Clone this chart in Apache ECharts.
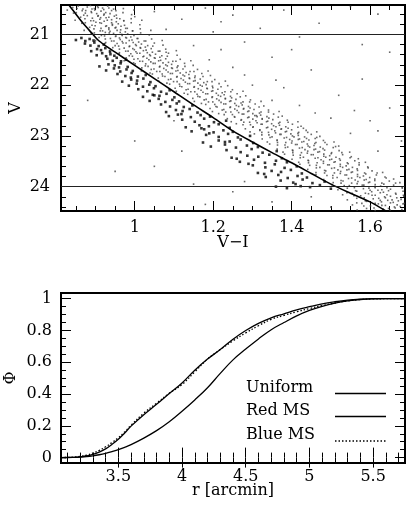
<!DOCTYPE html>
<html>
<head>
<meta charset="utf-8">
<script src="https://cdn.jsdelivr.net/npm/echarts@6/dist/echarts.min.js"></script>
<style>
html, body { margin: 0; padding: 0; background: #fff; }
#chart { width: 406px; height: 516px; }
</style>
</head>
<body>
<div id="chart"></div>
<script>
// ---------- top panel: V vs V-I ----------
// main sequence band (small dots)
var bandStars = [
  [0.842,20.47],[0.856,20.44],[0.868,20.5],[0.879,20.46],[0.887,20.43],[0.897,20.49],[0.905,20.45],[0.918,20.48],[0.931,20.44],[0.946,20.5],
  [0.851,20.57],[0.866,20.53],[0.874,20.58],[0.889,20.55],[0.898,20.52],[0.903,20.59],[0.914,20.54],[0.926,20.57],[0.941,20.53],
  [0.862,20.66],[0.879,20.63],[0.892,20.68],[0.906,20.64],[0.913,20.67],[0.921,20.62],[0.934,20.66],[0.948,20.64],[0.962,20.69],
  [0.874,20.77],[0.888,20.73],[0.901,20.76],[0.915,20.78],[0.922,20.74],[0.93,20.72],[0.941,20.77],[0.953,20.75],[0.972,20.73],
  [0.885,20.86],[0.899,20.83],[0.914,20.88],[0.926,20.84],[0.934,20.87],[0.943,20.82],[0.952,20.86],[0.965,20.84],[0.981,20.88],
  [0.897,20.97],[0.912,20.93],[0.925,20.96],[0.937,20.94],[0.946,20.98],[0.955,20.92],[0.963,20.96],[0.976,20.95],[0.994,20.93],
  [0.909,21.06],[0.923,21.03],[0.938,21.08],[0.951,21.04],[0.961,21.07],[0.968,21.02],[0.977,21.06],[0.99,21.05],[1.008,21.08],
  [0.926,21.16],[0.941,21.13],[0.955,21.18],[0.968,21.14],[0.978,21.17],[0.986,21.12],[0.996,21.16],[1.01,21.15],[1.028,21.13],
  [0.944,21.26],[0.959,21.23],[0.973,21.27],[0.986,21.24],[0.995,21.28],[1.004,21.22],[1.014,21.26],[1.027,21.25],[1.046,21.23],
  [0.961,21.36],[0.977,21.33],[0.99,21.38],[1.003,21.34],[1.013,21.37],[1.022,21.32],[1.032,21.36],[1.045,21.35],[1.064,21.33],
  [0.978,21.46],[0.994,21.43],[1.008,21.48],[1.021,21.44],[1.031,21.47],[1.04,21.42],[1.05,21.46],[1.064,21.45],[1.083,21.43],
  [0.997,21.56],[1.013,21.53],[1.028,21.58],[1.041,21.54],[1.052,21.57],[1.061,21.52],[1.072,21.56],[1.086,21.55],[1.105,21.53],
  [1.018,21.66],[1.034,21.63],[1.049,21.68],[1.063,21.64],[1.074,21.67],[1.083,21.62],[1.094,21.66],[1.108,21.65],[1.128,21.63],
  [1.039,21.76],[1.056,21.73],[1.07,21.78],[1.085,21.74],[1.096,21.77],[1.105,21.72],[1.116,21.76],[1.131,21.75],[1.151,21.73],
  [1.06,21.86],[1.077,21.83],[1.092,21.88],[1.107,21.84],[1.118,21.87],[1.127,21.82],[1.139,21.86],[1.153,21.85],[1.174,21.83],
  [1.082,21.96],[1.099,21.93],[1.114,21.98],[1.129,21.94],[1.14,21.97],[1.15,21.92],[1.161,21.96],[1.176,21.95],[1.197,21.93],
  [1.103,22.06],[1.12,22.03],[1.136,22.08],[1.151,22.04],[1.162,22.07],[1.172,22.02],[1.184,22.06],[1.199,22.05],[1.22,22.03],
  [1.126,22.16],[1.143,22.13],[1.159,22.18],[1.174,22.14],[1.186,22.17],[1.196,22.12],[1.208,22.16],[1.223,22.15],[1.245,22.13],
  [1.148,22.26],[1.166,22.23],[1.182,22.28],[1.197,22.24],[1.209,22.27],[1.219,22.22],[1.231,22.26],[1.247,22.25],[1.269,22.23],
  [1.17,22.36],[1.188,22.33],[1.204,22.38],[1.22,22.34],[1.232,22.37],[1.242,22.32],[1.255,22.36],[1.271,22.35],[1.293,22.33],
  [1.192,22.46],[1.21,22.43],[1.227,22.48],[1.243,22.44],[1.255,22.47],[1.265,22.42],[1.278,22.46],[1.294,22.45],[1.317,22.43],
  [1.214,22.56],[1.232,22.53],[1.249,22.58],[1.265,22.54],[1.278,22.57],[1.288,22.52],[1.301,22.56],[1.318,22.55],[1.341,22.53],
  [1.236,22.66],[1.255,22.63],[1.272,22.68],[1.288,22.64],[1.301,22.67],[1.312,22.62],[1.325,22.66],[1.342,22.65],[1.366,22.63],
  [1.259,22.76],[1.278,22.73],[1.295,22.78],[1.312,22.74],[1.325,22.77],[1.336,22.72],[1.349,22.76],[1.367,22.75],[1.391,22.73],
  [1.282,22.86],[1.301,22.83],[1.319,22.88],[1.336,22.84],[1.349,22.87],[1.36,22.82],[1.374,22.86],[1.391,22.85],[1.416,22.83],
  [1.305,22.96],[1.324,22.93],[1.342,22.98],[1.359,22.94],[1.373,22.97],[1.384,22.92],[1.398,22.96],[1.416,22.95],[1.441,22.93],
  [1.325,23.06],[1.345,23.03],[1.363,23.08],[1.381,23.04],[1.395,23.07],[1.406,23.02],[1.42,23.06],[1.438,23.05],[1.464,23.03],
  [1.344,23.16],[1.364,23.13],[1.383,23.18],[1.4,23.14],[1.414,23.17],[1.426,23.12],[1.44,23.16],[1.459,23.15],[1.485,23.13],
  [1.363,23.26],[1.384,23.23],[1.402,23.28],[1.42,23.24],[1.434,23.27],[1.446,23.22],[1.461,23.26],[1.48,23.25],[1.506,23.23],
  [1.382,23.36],[1.403,23.33],[1.422,23.38],[1.44,23.34],[1.455,23.37],[1.467,23.32],[1.482,23.36],[1.501,23.35],[1.528,23.33],
  [1.401,23.46],[1.422,23.43],[1.442,23.48],[1.46,23.44],[1.475,23.47],[1.487,23.42],[1.502,23.46],[1.522,23.45],[1.549,23.43],
  [1.421,23.56],[1.443,23.53],[1.463,23.58],[1.481,23.54],[1.496,23.57],[1.508,23.52],[1.524,23.56],[1.544,23.55],[1.572,23.53],
  [1.441,23.66],[1.463,23.63],[1.484,23.68],[1.502,23.64],[1.518,23.67],[1.53,23.62],[1.546,23.66],[1.567,23.65],[1.595,23.63],
  [1.462,23.76],[1.484,23.73],[1.505,23.78],[1.524,23.74],[1.54,23.77],[1.552,23.72],[1.568,23.76],[1.589,23.75],[1.618,23.73],
  [1.482,23.86],[1.505,23.83],[1.526,23.88],[1.545,23.84],[1.562,23.87],[1.574,23.82],[1.59,23.86],[1.612,23.85],[1.641,23.83],
  [1.503,23.96],[1.526,23.93],[1.547,23.98],[1.567,23.94],[1.584,23.97],[1.596,23.92],[1.613,23.96],[1.635,23.95],[1.665,23.93],
  [1.518,24.06],[1.542,24.03],[1.563,24.08],[1.583,24.04],[1.6,24.07],[1.613,24.02],[1.63,24.06],[1.652,24.05],[1.682,24.03],
  [1.53,24.16],[1.554,24.13],[1.576,24.18],[1.596,24.14],[1.613,24.17],[1.626,24.12],[1.643,24.16],[1.666,24.15],[1.686,24.19],
  [1.542,24.26],[1.566,24.23],[1.588,24.28],[1.608,24.24],[1.626,24.27],[1.639,24.22],[1.656,24.26],[1.679,24.25],
  [1.555,24.36],[1.579,24.33],[1.601,24.38],[1.621,24.34],[1.639,24.37],[1.652,24.32],[1.669,24.36],[1.684,24.34],
  [1.567,24.46],[1.591,24.43],[1.613,24.47],[1.633,24.44],[1.651,24.46],[1.664,24.42],[1.681,24.45]
];
// more band stars, on the rows in between
var bandStars2 = [
  [0.828,20.52],[0.853,20.49],[0.875,20.53],[0.891,20.5],[0.907,20.47],[0.921,20.51],[0.934,20.48],[0.952,20.53],[0.971,20.49],[0.998,20.52],
  [0.844,20.58],[0.87,20.62],[0.89,20.57],[0.907,20.63],[0.922,20.6],[0.937,20.59],[0.953,20.62],[0.97,20.57],[0.992,20.61],
  [0.848,20.72],[0.873,20.69],[0.895,20.73],[0.911,20.7],[0.927,20.67],[0.941,20.71],[0.954,20.68],[0.972,20.73],[0.991,20.69],[1.018,20.72],
  [0.865,20.78],[0.891,20.82],[0.911,20.77],[0.928,20.83],[0.943,20.8],[0.958,20.79],[0.974,20.82],[0.991,20.77],[1.013,20.81],
  [0.871,20.92],[0.896,20.89],[0.918,20.93],[0.934,20.9],[0.95,20.87],[0.964,20.91],[0.977,20.88],[0.995,20.93],[1.014,20.89],[1.041,20.92],
  [0.889,20.98],[0.915,21.02],[0.935,20.97],[0.952,21.03],[0.967,21.0],[0.982,20.99],[0.998,21.02],[1.015,20.97],[1.037,21.01],
  [0.9,21.12],[0.925,21.09],[0.947,21.13],[0.963,21.1],[0.979,21.07],[0.993,21.11],[1.006,21.08],[1.024,21.13],[1.043,21.09],[1.07,21.12],
  [0.924,21.18],[0.95,21.22],[0.97,21.17],[0.987,21.23],[1.002,21.2],[1.017,21.19],[1.033,21.22],[1.05,21.17],[1.072,21.21],
  [0.936,21.32],[0.961,21.29],[0.983,21.33],[0.999,21.3],[1.015,21.27],[1.029,21.31],[1.042,21.28],[1.06,21.33],[1.079,21.29],[1.106,21.32],
  [0.96,21.38],[0.986,21.42],[1.006,21.37],[1.023,21.43],[1.038,21.4],[1.053,21.39],[1.069,21.42],[1.086,21.37],[1.108,21.41],
  [0.973,21.52],[0.998,21.49],[1.02,21.53],[1.036,21.5],[1.052,21.47],[1.066,21.51],[1.079,21.48],[1.097,21.53],[1.116,21.49],[1.143,21.52],
  [1.001,21.58],[1.027,21.62],[1.047,21.57],[1.064,21.63],[1.079,21.6],[1.094,21.59],[1.11,21.62],[1.127,21.57],[1.149,21.61],
  [1.017,21.72],[1.042,21.69],[1.064,21.73],[1.08,21.7],[1.096,21.67],[1.11,21.71],[1.123,21.68],[1.141,21.73],[1.16,21.69],[1.187,21.72],
  [1.045,21.78],[1.071,21.82],[1.091,21.77],[1.108,21.83],[1.123,21.8],[1.138,21.79],[1.154,21.82],[1.171,21.77],[1.193,21.81],
  [1.061,21.92],[1.086,21.89],[1.108,21.93],[1.124,21.9],[1.14,21.87],[1.154,21.91],[1.167,21.88],[1.185,21.93],[1.204,21.89],[1.231,21.92],
  [1.089,21.98],[1.115,22.02],[1.135,21.97],[1.152,22.03],[1.167,22.0],[1.182,21.99],[1.198,22.02],[1.215,21.97],[1.237,22.01],
  [1.106,22.12],[1.131,22.09],[1.153,22.13],[1.169,22.1],[1.185,22.07],[1.199,22.11],[1.212,22.08],[1.23,22.13],[1.249,22.09],[1.276,22.12],
  [1.135,22.18],[1.161,22.22],[1.181,22.17],[1.198,22.23],[1.213,22.2],[1.228,22.19],[1.244,22.22],[1.261,22.17],[1.283,22.21],
  [1.152,22.32],[1.177,22.29],[1.199,22.33],[1.215,22.3],[1.231,22.27],[1.245,22.31],[1.258,22.28],[1.276,22.33],[1.295,22.29],[1.322,22.32],
  [1.181,22.38],[1.207,22.42],[1.227,22.37],[1.244,22.43],[1.259,22.4],[1.274,22.39],[1.29,22.42],[1.307,22.37],[1.329,22.41],
  [1.198,22.52],[1.223,22.49],[1.245,22.53],[1.261,22.5],[1.277,22.47],[1.291,22.51],[1.304,22.48],[1.322,22.53],[1.341,22.49],[1.368,22.52],
  [1.228,22.58],[1.254,22.62],[1.274,22.57],[1.291,22.63],[1.306,22.6],[1.321,22.59],[1.337,22.62],[1.354,22.57],[1.376,22.61],
  [1.246,22.72],[1.271,22.69],[1.293,22.73],[1.309,22.7],[1.325,22.67],[1.339,22.71],[1.352,22.68],[1.37,22.73],[1.389,22.69],[1.416,22.72],
  [1.276,22.78],[1.302,22.82],[1.322,22.77],[1.339,22.83],[1.354,22.8],[1.369,22.79],[1.385,22.82],[1.402,22.77],[1.424,22.81],
  [1.294,22.92],[1.319,22.89],[1.341,22.93],[1.357,22.9],[1.373,22.87],[1.387,22.91],[1.4,22.88],[1.418,22.93],[1.437,22.89],[1.464,22.92],
  [1.324,22.98],[1.35,23.02],[1.37,22.97],[1.387,23.03],[1.402,23.0],[1.417,22.99],[1.433,23.02],[1.45,22.97],[1.472,23.01],
  [1.338,23.12],[1.363,23.09],[1.385,23.13],[1.401,23.1],[1.417,23.07],[1.431,23.11],[1.444,23.08],[1.462,23.13],[1.481,23.09],[1.508,23.12],
  [1.364,23.18],[1.39,23.22],[1.41,23.17],[1.427,23.23],[1.442,23.2],[1.457,23.19],[1.473,23.22],[1.49,23.17],[1.512,23.21],
  [1.378,23.32],[1.403,23.29],[1.425,23.33],[1.441,23.3],[1.457,23.27],[1.471,23.31],[1.484,23.28],[1.502,23.33],[1.521,23.29],[1.548,23.32],
  [1.404,23.38],[1.43,23.42],[1.45,23.37],[1.467,23.43],[1.482,23.4],[1.497,23.39],[1.513,23.42],[1.53,23.37],[1.552,23.41],
  [1.418,23.52],[1.443,23.49],[1.465,23.53],[1.481,23.5],[1.497,23.47],[1.511,23.51],[1.524,23.48],[1.542,23.53],[1.561,23.49],[1.588,23.52],
  [1.446,23.58],[1.472,23.62],[1.492,23.57],[1.509,23.63],[1.524,23.6],[1.539,23.59],[1.555,23.62],[1.572,23.57],[1.594,23.61],
  [1.462,23.72],[1.487,23.69],[1.509,23.73],[1.525,23.7],[1.541,23.67],[1.555,23.71],[1.568,23.68],[1.586,23.73],[1.605,23.69],[1.632,23.72],
  [1.49,23.78],[1.516,23.82],[1.536,23.77],[1.553,23.83],[1.568,23.8],[1.583,23.79],[1.599,23.82],[1.616,23.77],[1.638,23.81],
  [1.506,23.92],[1.531,23.89],[1.553,23.93],[1.569,23.9],[1.585,23.87],[1.599,23.91],[1.612,23.88],[1.63,23.93],[1.649,23.89],[1.676,23.92],
  [1.534,23.98],[1.56,24.02],[1.58,23.97],[1.597,24.03],[1.612,24.0],[1.627,23.99],[1.643,24.02],[1.66,23.97],[1.682,24.01],
  [1.541,24.12],[1.566,24.09],[1.588,24.13],[1.604,24.1],[1.62,24.07],[1.634,24.11],[1.647,24.08],[1.665,24.13],[1.684,24.09],
  [1.559,24.18],[1.585,24.22],[1.605,24.17],[1.622,24.23],[1.637,24.2],[1.652,24.19],[1.668,24.22],[1.685,24.17],
  [1.566,24.32],[1.591,24.29],[1.613,24.33],[1.629,24.3],[1.645,24.27],[1.659,24.31],[1.672,24.28],[1.687,24.33],
  [1.584,24.38],[1.61,24.42],[1.63,24.37],[1.647,24.43],[1.662,24.4],[1.677,24.39]
];
// stars on the blue side of the ridge line (bold dots)
var boldStars = [
  [0.85,21.11],[0.864,21.07],[0.874,21.13],[0.885,21.09],[0.895,21.12],
  [0.873,21.18],[0.887,21.22],[0.897,21.16],[0.908,21.23],[0.921,21.2],
  [0.889,21.33],[0.904,21.29],[0.914,21.31],[0.925,21.27],[0.937,21.34],
  [0.903,21.41],[0.917,21.37],[0.927,21.43],[0.938,21.39],[0.948,21.42],
  [0.93,21.48],[0.944,21.52],[0.954,21.46],[0.965,21.53],[0.978,21.5],
  [0.91,21.63],[0.933,21.59],[0.949,21.61],[0.964,21.57],[0.982,21.64],
  [0.927,21.71],[0.947,21.67],[0.963,21.73],[0.979,21.69],[0.995,21.72],
  [0.956,21.78],[0.976,21.82],[0.992,21.76],[1.008,21.83],[1.028,21.8],
  [0.968,21.93],[0.991,21.89],[1.006,21.91],[1.022,21.87],[1.04,21.94],
  [0.985,22.01],[1.005,21.97],[1.021,22.03],[1.037,21.99],[1.053,22.02],
  [1.009,22.08],[1.032,22.12],[1.049,22.06],[1.067,22.13],[1.089,22.1],
  [1.021,22.23],[1.046,22.19],[1.063,22.21],[1.081,22.17],[1.101,22.24],
  [1.038,22.31],[1.061,22.27],[1.078,22.33],[1.096,22.29],[1.113,22.32],
  [1.067,22.38],[1.09,22.42],[1.107,22.36],[1.125,22.43],[1.147,22.4],
  [1.08,22.53],[1.105,22.49],[1.122,22.51],[1.14,22.47],[1.16,22.54],
  [1.087,22.61],[1.119,22.57],[1.143,22.63],[1.168,22.59],[1.192,22.62],
  [1.121,22.68],[1.153,22.72],[1.177,22.66],[1.202,22.73],[1.233,22.7],
  [1.13,22.83],[1.165,22.79],[1.189,22.81],[1.214,22.77],[1.242,22.84],
  [1.145,22.91],[1.177,22.87],[1.201,22.93],[1.226,22.89],[1.25,22.92],
  [1.182,22.98],[1.214,23.02],[1.238,22.96],[1.263,23.03],[1.294,23.0],
  [1.174,23.13],[1.214,23.09],[1.242,23.11],[1.27,23.07],[1.302,23.14],
  [1.194,23.21],[1.23,23.17],[1.258,23.23],[1.286,23.19],[1.314,23.22],
  [1.234,23.28],[1.27,23.32],[1.298,23.26],[1.326,23.33],[1.362,23.3],
  [1.247,23.43],[1.287,23.39],[1.315,23.41],[1.343,23.37],[1.375,23.44],
  [1.268,23.51],[1.304,23.47],[1.332,23.53],[1.36,23.49],[1.388,23.52],
  [1.301,23.58],[1.333,23.62],[1.357,23.56],[1.382,23.63],[1.413,23.6],
  [1.314,23.73],[1.349,23.69],[1.373,23.71],[1.398,23.67],[1.426,23.74],
  [1.334,23.81],[1.366,23.77],[1.39,23.83],[1.415,23.79],[1.439,23.82],
  [1.372,23.88],[1.404,23.92],[1.428,23.86],[1.453,23.93],[1.484,23.9],
  [1.388,24.03],[1.423,23.99],[1.447,24.01],[1.472,23.97],[1.5,24.04],
  [1.19,22.95],[1.26,23.45],[1.33,23.75],[1.11,22.58],[1.05,22.2],[1.36,24.0],
  [1.41,23.95],[1.29,23.55],[1.23,23.12],[1.17,22.85],[0.99,21.85],[0.96,21.65]
];
// scattered field stars
var fieldStars = [
  [1.05,20.55],[1.12,20.7],[1.18,20.48],[1.25,20.62],[1.38,20.52],[1.55,20.45],[1.62,20.6],[1.47,20.78],
  [1.32,20.88],[1.2,20.95],[1.08,20.9],[1.28,21.15],[1.42,21.05],[1.58,21.2],[1.65,21.35],[1.35,21.45],
  [1.22,21.3],[1.15,21.22],[1.45,21.7],[1.28,21.8],[1.58,21.88],[1.38,22.05],[1.52,22.2],[1.65,22.45],
  [1.35,22.3],[1.46,22.55],[1.6,22.7],[1.55,22.95],[1.68,23.1],[1.62,23.3],[1.1,22.7],[1.0,23.1],
  [0.95,23.7],[1.05,23.6],[1.15,23.95],[1.25,24.1],[1.35,24.3],[1.45,24.2],[1.18,24.35],[0.88,22.3],
  [1.12,23.3],[1.28,23.9],[1.5,24.4],[1.43,22.85],[1.52,23.2],
  [1.3,22.0],[1.36,21.9],[1.42,22.4],[1.5,22.65],[1.56,22.5],[1.62,22.9],[1.25,21.65],[1.19,21.5],
  [1.68,23.6],[1.66,23.85],[1.4,21.3],[1.31,22.6],[1.46,23.05],[1.57,23.45],[1.22,20.75],[1.0,20.65],[1.08,21.35]
];
// ridge line drawn through the diagram
var fiducial = [
  [0.832,20.42],[0.845,20.55],[0.86,20.7],[0.875,20.84],[0.89,20.97],[0.905,21.1],[0.925,21.22],
  [0.95,21.35],[1.0,21.61],[1.05,21.87],[1.1,22.13],[1.15,22.39],[1.2,22.64],[1.25,22.9],
  [1.3,23.12],[1.35,23.33],[1.4,23.53],[1.45,23.74],[1.5,23.95],[1.55,24.13],[1.6,24.3],[1.64,24.48]
];
var cutLines = [21, 24];
var cmdXMajor = [1, 1.2, 1.4, 1.6];
var cmdXMinor = [0.85, 0.9, 0.95, 1.05, 1.1, 1.15, 1.25, 1.3, 1.35, 1.45, 1.5, 1.55, 1.65];
var cmdYMajor = [21, 22, 23, 24];
var cmdYMinor = [20.6, 20.8, 21.2, 21.4, 21.6, 21.8, 22.2, 22.4, 22.6, 22.8, 23.2, 23.4, 23.6, 23.8, 24.2, 24.4];

// ---------- bottom panel: cumulative radial distributions ----------
var rGrid = [3.05,3.1,3.15,3.2,3.25,3.3,3.35,3.4,3.45,3.5,3.55,3.6,3.7,3.8,3.9,4.0,4.1,4.2,4.3,4.4,4.5,4.6,4.7,4.8,4.9,5.0,5.1,5.2,5.3,5.4,5.5,5.6,5.75];
var phiUniform = [0,0,0.001,0.003,0.006,0.011,0.018,0.027,0.038,0.05,0.065,0.082,0.123,0.17,0.226,0.292,0.363,0.44,0.53,0.615,0.683,0.747,0.805,0.85,0.892,0.926,0.952,0.972,0.986,0.995,0.999,1,1];
var phiRed = [0,0.001,0.002,0.005,0.01,0.02,0.035,0.055,0.083,0.115,0.155,0.198,0.27,0.335,0.403,0.47,0.55,0.62,0.68,0.745,0.8,0.845,0.88,0.905,0.93,0.95,0.968,0.981,0.991,0.997,1,1,1];
var phiBlue = [0,0.001,0.003,0.008,0.015,0.028,0.045,0.068,0.095,0.125,0.162,0.204,0.28,0.342,0.405,0.46,0.54,0.62,0.68,0.735,0.785,0.83,0.87,0.895,0.918,0.938,0.957,0.973,0.986,0.995,0.999,1,1];
var radXMajor = [3.5, 4, 4.5, 5, 5.5];
var radXMinor = [3.1,3.2,3.3,3.4,3.6,3.7,3.8,3.9,4.1,4.2,4.3,4.4,4.6,4.7,4.8,4.9,5.1,5.2,5.3,5.4,5.6,5.7];
var phiMajor = [0, 0.2, 0.4, 0.6, 0.8, 1];
var phiMinor = [0.05,0.1,0.15,0.25,0.3,0.35,0.45,0.5,0.55,0.65,0.7,0.75,0.85,0.9,0.95];
var legendNames = ['Uniform', 'Red MS', 'Blue MS'];

var FONT = 'DejaVu Serif';

// four axes per dimension: labelled major, minor, and the mirrored pair on the opposite side
function axisGroup(dim, grid, min, max, major, minor, o) {
  var sides = dim === 'x' ? ['bottom', 'top'] : ['left', 'right'];
  var list = [];
  sides.forEach(function (side, s) {
    [major, minor].forEach(function (vals, m) {
      var a = {
        type: 'value', gridIndex: grid, min: min, max: max, position: side,
        inverse: !!o.inverse,
        axisLine: { show: false },
        splitLine: { show: false },
        axisTick: { show: true, inside: true, customValues: vals, length: m ? 5 : 10,
          lineStyle: { color: '#000', width: 1 } },
        axisLabel: { show: false }
      };
      if (s === 0 && m === 0) {
        a.axisLabel = { show: true, customValues: vals, fontFamily: FONT, fontSize: 16,
          color: '#000', margin: o.margin };
        a.name = o.name;
        a.nameLocation = 'middle';
        a.nameGap = o.nameGap;
        a.nameMoveOverlap = false;
        a.nameRotate = dim === 'y' ? 90 : 0;
        a.nameTextStyle = { fontFamily: FONT, fontSize: 16, color: '#000' };
      }
      list.push(a);
    });
  });
  return list;
}

var xAxes = [].concat(
  axisGroup('x', 0, 0.812, 1.689, cmdXMajor, cmdXMinor, { name: 'V\u2212I', nameGap: 24, margin: 9 }),
  axisGroup('x', 1, 3.05, 5.75, radXMajor, radXMinor, { name: 'r [arcmin]', nameGap: 20, margin: 6 })
);
var yAxes = [].concat(
  axisGroup('y', 0, 20.42, 24.48, cmdYMajor, cmdYMinor, { name: 'V', nameGap: 37, margin: 11, inverse: true }),
  axisGroup('y', 1, -0.034, 1.036, phiMajor, phiMinor, { name: '\u03a6', nameGap: 42, margin: 9 })
);

function pairs(xs, ys) {
  return xs.map(function (x, i) { return [x, ys[i]]; });
}

var chart = echarts.init(document.getElementById('chart'), null, { renderer: 'canvas' });
chart.setOption({
  animation: false,
  backgroundColor: '#fff',
  grid: [
    { left: 61, top: 5, width: 344, height: 206, outerBoundsMode: 'none', containLabel: false,
      show: true, borderColor: '#000', borderWidth: 2, backgroundColor: 'transparent' },
    { left: 61, top: 293, width: 344, height: 170, outerBoundsMode: 'none', containLabel: false,
      show: true, borderColor: '#000', borderWidth: 2, backgroundColor: 'transparent' }
  ],
  xAxis: xAxes,
  yAxis: yAxes,
  series: [
    {
      type: 'scatter', xAxisIndex: 0, yAxisIndex: 0, data: bandStars.concat(bandStars2, fieldStars),
      symbol: 'rect', symbolSize: 1.6, itemStyle: { color: '#444' }, silent: true,
      markLine: {
        silent: true, symbol: 'none', label: { show: false },
        lineStyle: { color: '#222', width: 1, type: 'solid' },
        data: cutLines.map(function (v) { return { yAxis: v }; })
      }
    },
    {
      type: 'scatter', xAxisIndex: 0, yAxisIndex: 0, data: boldStars,
      symbol: 'rect', symbolSize: 2.6, itemStyle: { color: '#000' }, silent: true
    },
    {
      type: 'line', xAxisIndex: 0, yAxisIndex: 0, data: fiducial, showSymbol: false,
      smooth: 0.3, lineStyle: { color: '#000', width: 1.6 }, silent: true
    },
    {
      name: legendNames[0], type: 'line', xAxisIndex: 4, yAxisIndex: 4, data: pairs(rGrid, phiUniform),
      showSymbol: false, smooth: 0.4, lineStyle: { color: '#000', width: 1.3 }, silent: true
    },
    {
      name: legendNames[1], type: 'line', xAxisIndex: 4, yAxisIndex: 4, data: pairs(rGrid, phiRed),
      showSymbol: false, smooth: 0.4, lineStyle: { color: '#000', width: 1.3 }, silent: true
    },
    {
      name: legendNames[2], type: 'line', xAxisIndex: 4, yAxisIndex: 4, data: pairs(rGrid, phiBlue),
      showSymbol: false, smooth: 0.4, lineStyle: { color: '#000', width: 1.3, type: [1.5, 2] }, silent: true
    }
  ],
  graphic: [
    { type: 'text', left: 246, top: 380, style: { text: legendNames[0], font: '16px "DejaVu Serif"', fill: '#000' } },
    { type: 'text', left: 246, top: 403, style: { text: legendNames[1], font: '16px "DejaVu Serif"', fill: '#000' } },
    { type: 'text', left: 246, top: 427, style: { text: legendNames[2], font: '16px "DejaVu Serif"', fill: '#000' } },
    { type: 'line', shape: { x1: 335, y1: 393.5, x2: 386, y2: 393.5 }, style: { stroke: '#000', lineWidth: 1.3 } },
    { type: 'line', shape: { x1: 335, y1: 416.5, x2: 386, y2: 416.5 }, style: { stroke: '#000', lineWidth: 1.3 } },
    { type: 'line', shape: { x1: 335, y1: 441, x2: 386, y2: 441 }, style: { stroke: '#000', lineWidth: 1.3, lineDash: [1.5, 2] } }
  ]
});
</script>
</body>
</html>
